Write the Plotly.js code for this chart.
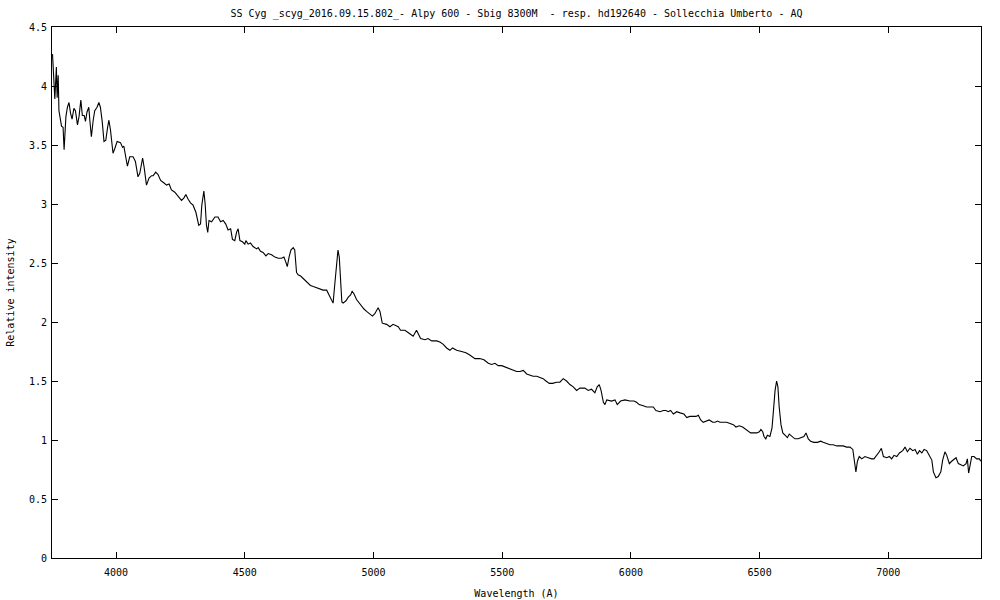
<!DOCTYPE html>
<html>
<head>
<meta charset="utf-8">
<script src="https://cdn.plot.ly/plotly-3.0.1.min.js"></script>
<style>html,body{margin:0;padding:0;background:#fff;}#chart{width:1000px;height:600px;}</style>
</head>
<body>
<div id="chart"></div>
<script>
const titleText = "SS Cyg _scyg_2016.09.15.802_- Alpy 600 - Sbig 8300M&nbsp; - resp. hd192640 - Sollecchia Umberto - AQ";
const xTitle = "Wavelength (A)";
const yTitle = "Relative intensity";

const wavelength = [
3753,3762,3768,3771,3775,3778,3788,3794,3798,3805,3811,3817,3823,3829,3836,3842,3850,3856,3863,3869,
3876,3881,3887,3894,3898,3904,3911,3917,3926,3933,3939,3946,3953,3960,3967,3972,3978,3988,3995,4004,
4017,4025,4030,4038,4044,4053,4066,4075,4085,4092,4103,4109,4118,4128,4138,4144,4154,4163,4173,4185,
4196,4206,4215,4228,4241,4254,4263,4271,4280,4289,4299,4310,4321,4328,4333,4341,4346,4351,4356,4361,
4371,4384,4396,4406,4416,4426,4435,4445,4452,4461,4468,4474,4481,4491,4500,4504,4513,4522,4532,4546,
4552,4561,4571,4582,4591,4604,4617,4630,4643,4652,4659,4665,4672,4679,4688,4694,4701,4707,4717,4727,
4737,4746,4755,4766,4779,4792,4804,4818,4828,4837,4843,4850,4857,4862,4867,4872,4877,4882,4893,4902,
4911,4917,4924,4934,4944,4954,4963,4973,4979,4986,4996,5005,5018,5025,5034,5051,5064,5076,5096,5105,
5122,5141,5154,5167,5174,5183,5200,5212,5226,5245,5258,5271,5284,5297,5307,5323,5342,5359,5374,5394,
5413,5429,5446,5459,5472,5484,5498,5510,5523,5533,5543,5556,5569,5582,5595,5608,5620,5634,5647,5659,
5670,5683,5696,5711,5724,5737,5750,5763,5776,5789,5802,5821,5834,5847,5860,5869,5877,5884,5893,5899,
5906,5925,5938,5947,5960,5977,5996,6012,6022,6032,6048,6061,6077,6087,6097,6113,6126,6136,6145,6154,
6165,6178,6191,6206,6217,6229,6242,6253,6262,6271,6281,6292,6304,6318,6327,6336,6346,6359,6372,6385,
6398,6408,6421,6434,6447,6456,6465,6475,6489,6499,6505,6512,6517,6524,6530,6540,6548,6553,6560,6566,
6571,6576,6583,6590,6599,6608,6615,6625,6637,6650,6664,6672,6680,6689,6698,6711,6724,6737,6747,6761,
6773,6786,6800,6812,6825,6838,6851,6862,6867,6874,6880,6887,6897,6909,6922,6935,6944,6955,6965,6973,
6981,6994,7004,7013,7022,7033,7043,7056,7065,7074,7084,7095,7104,7113,7121,7130,7139,7149,7159,7169,
7175,7185,7194,7204,7211,7220,7227,7237,7246,7255,7263,7272,7281,7291,7302,7307,7312,7317,7324,7333,
7343,7354,7359
];

const intensity = [
4.27,3.89,4.16,3.90,4.09,3.79,3.66,3.65,3.46,3.74,3.82,3.86,3.77,3.72,3.81,3.79,3.67,3.74,3.88,3.75,
3.75,3.70,3.78,3.82,3.71,3.57,3.71,3.79,3.82,3.86,3.82,3.70,3.53,3.54,3.65,3.71,3.63,3.43,3.47,3.53,
3.52,3.48,3.49,3.40,3.32,3.40,3.40,3.36,3.23,3.26,3.39,3.31,3.16,3.22,3.24,3.24,3.27,3.25,3.20,3.18,
3.16,3.17,3.12,3.10,3.06,3.03,3.05,3.08,3.04,3.01,2.99,2.93,2.82,2.83,2.99,3.11,3.00,2.82,2.76,2.86,
2.85,2.89,2.89,2.85,2.86,2.83,2.78,2.79,2.70,2.69,2.76,2.79,2.69,2.68,2.66,2.69,2.66,2.67,2.64,2.62,
2.63,2.60,2.59,2.56,2.58,2.57,2.55,2.54,2.54,2.55,2.51,2.47,2.55,2.61,2.63,2.61,2.42,2.40,2.39,2.37,
2.35,2.33,2.31,2.30,2.29,2.28,2.27,2.27,2.23,2.19,2.16,2.33,2.50,2.61,2.55,2.33,2.17,2.16,2.18,2.21,
2.23,2.26,2.24,2.19,2.16,2.14,2.11,2.09,2.08,2.07,2.05,2.07,2.12,2.09,1.99,1.98,1.96,1.98,1.96,1.93,
1.93,1.90,1.88,1.93,1.90,1.86,1.85,1.86,1.84,1.84,1.83,1.81,1.78,1.76,1.78,1.76,1.75,1.74,1.72,1.69,
1.69,1.68,1.65,1.64,1.65,1.63,1.63,1.62,1.61,1.60,1.59,1.58,1.58,1.59,1.56,1.55,1.54,1.54,1.53,1.52,
1.50,1.48,1.48,1.49,1.49,1.52,1.50,1.47,1.45,1.42,1.44,1.44,1.42,1.43,1.40,1.45,1.47,1.42,1.32,1.30,
1.34,1.33,1.34,1.30,1.33,1.34,1.33,1.33,1.32,1.30,1.29,1.28,1.28,1.28,1.25,1.24,1.25,1.25,1.24,1.25,
1.22,1.24,1.23,1.22,1.19,1.20,1.20,1.20,1.21,1.17,1.15,1.16,1.17,1.15,1.15,1.16,1.15,1.15,1.15,1.14,
1.13,1.11,1.12,1.11,1.09,1.08,1.06,1.06,1.06,1.07,1.09,1.07,1.03,1.01,1.04,1.03,1.10,1.23,1.42,1.50,
1.45,1.28,1.13,1.06,1.04,1.02,1.05,1.03,1.01,1.01,1.02,1.03,1.06,1.01,0.99,0.98,0.98,0.99,0.98,0.97,
0.96,0.96,0.95,0.95,0.95,0.94,0.94,0.92,0.82,0.73,0.82,0.86,0.84,0.86,0.85,0.84,0.84,0.87,0.90,0.93,
0.86,0.85,0.86,0.84,0.87,0.86,0.89,0.91,0.94,0.90,0.93,0.91,0.92,0.88,0.91,0.89,0.92,0.91,0.87,0.83,
0.73,0.68,0.69,0.73,0.83,0.90,0.87,0.80,0.82,0.84,0.85,0.80,0.79,0.78,0.80,0.84,0.72,0.79,0.86,0.86,
0.84,0.84,0.82
];

const xRange = [3751, 7360];
const yRange = [0, 4.5];
const xTicks = [4000, 4500, 5000, 5500, 6000, 6500, 7000];
const yTicks = [0, 0.5, 1, 1.5, 2, 2.5, 3, 3.5, 4, 4.5];
const yTickText = ["0", "0.5", "1", "1.5", "2", "2.5", "3", "3.5", "4", "4.5"];

const font = {family: "DejaVu Sans Mono, monospace", size: 10, color: "#000"};

const trace = {
  x: wavelength,
  y: intensity,
  type: "scatter",
  mode: "lines",
  line: {color: "#000", width: 1.1},
  hoverinfo: "x+y"
};

const axisCommon = {
  showline: true,
  linecolor: "#000",
  linewidth: 1,
  mirror: "allticks",
  ticks: "inside",
  ticklen: 6,
  tickwidth: 1,
  tickcolor: "#000",
  showgrid: false,
  zeroline: false,
  tickfont: font
};

const layout = {
  width: 1000,
  height: 600,
  margin: {l: 52, r: 19, t: 27, b: 42},
  paper_bgcolor: "#fff",
  plot_bgcolor: "#fff",
  showlegend: false,
  font: font,
  title: {text: titleText, font: font, x: 0.5, xref: "paper", y: 0.978, yref: "container", yanchor: "middle"},
  xaxis: Object.assign({}, axisCommon, {
    range: xRange, tickmode: "array", tickvals: xTicks,
    ticklabelstandoff: 5,
    title: {text: xTitle, font: font, standoff: 12}
  }),
  yaxis: Object.assign({}, axisCommon, {
    range: yRange, tickmode: "array", tickvals: yTicks, ticktext: yTickText,
    ticklabelstandoff: 2,
    title: {text: yTitle, font: font, standoff: 12}
  })
};

Plotly.newPlot("chart", [trace], layout, {displayModeBar: false, staticPlot: true});
</script>
</body>
</html>
